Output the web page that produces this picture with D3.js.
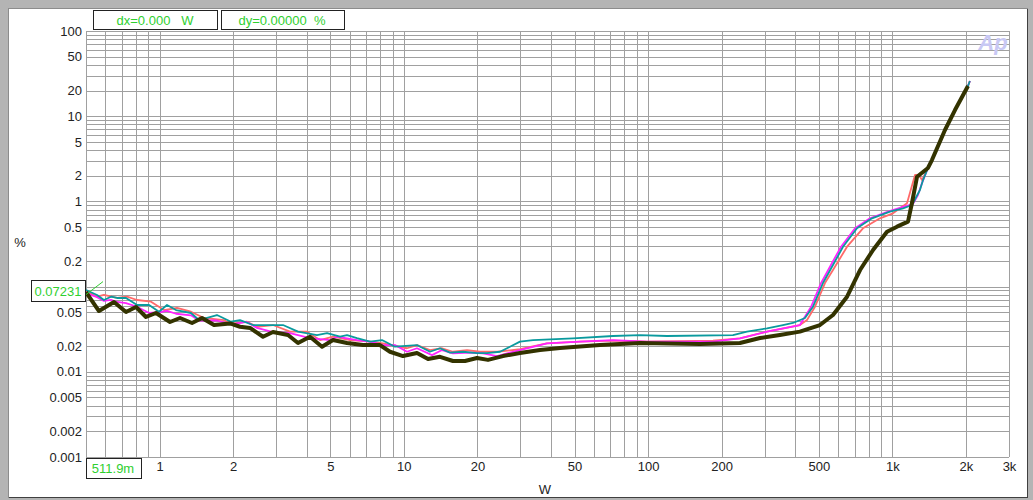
<!DOCTYPE html>
<meta charset="utf-8">
<style>
body { margin: 0; background: #fff; }
svg text { font-family: "Liberation Sans", Arial, sans-serif; }
</style>
<svg width="1033" height="500"></svg>
<script src="https://d3js.org/d3.v7.min.js"></script>
<script>

// power (W) / THD+N (%), one pair of arrays per trace
var redW = [0.5, 0.555, 0.592, 0.670, 0.736, 0.809, 0.923, 1.043, 1.179, 1.345, 1.521, 1.836, 1.943, 2.28, 2.505, 2.913, 3.42, 4.014, 4.537, 5.129, 6.02, 7.27, 8.22, 10.3, 11.32, 12.79, 14.33, 15.89, 18.13, 20.5, 24.06, 29.88, 38.5, 52.6, 71.8, 98.9, 184.2, 237.6, 306.6, 418, 447, 482, 529.5, 571, 652, 757.5, 889, 1005, 1147, 1237, 1284, 1321, 1398, 1451, 1641, 1803, 2038, 2075];
var redPct = [0.088, 0.0761, 0.0797, 0.0735, 0.0761, 0.0696, 0.0665, 0.0531, 0.0561, 0.0507, 0.0428, 0.0405, 0.0364, 0.0387, 0.0338, 0.0354, 0.0296, 0.0296, 0.0236, 0.0258, 0.0236, 0.0226, 0.0216, 0.0189, 0.0206, 0.0180, 0.0189, 0.0172, 0.0180, 0.0172, 0.0172, 0.0184, 0.0216, 0.0226, 0.0232, 0.0226, 0.0232, 0.0247, 0.0296, 0.0354, 0.0405, 0.0581, 0.110, 0.1566, 0.294, 0.483, 0.633, 0.725, 0.950, 2.04, 2.04, 1.78, 2.47, 3.06, 6.89, 11.8, 22.6, 25.9];

var magentaW = [0.5, 0.555, 0.592, 0.633, 0.670, 0.729, 0.809, 0.906, 0.995, 1.073, 1.168, 1.345, 1.45, 1.718, 1.961, 2.28, 2.505, 2.913, 3.42, 4.129, 4.985, 5.325, 6.43, 7.27, 8.22, 9.20, 10.3, 11.32, 13.04, 14.33, 15.89, 18.66, 21.09, 24.06, 27.19, 29.88, 38.5, 52.6, 71.8, 98.9, 184.2, 237.6, 306.6, 418, 430, 464, 510, 560, 616, 703, 809, 959, 1105, 1213, 1272, 1321, 1398, 1451, 1641, 1803, 2038, 2075];
var magentaPct = [0.084, 0.075, 0.068, 0.070, 0.066, 0.064, 0.058, 0.049, 0.050, 0.052, 0.048, 0.046, 0.040, 0.040, 0.036, 0.0385, 0.0327, 0.0293, 0.0285, 0.0249, 0.0236, 0.0258, 0.0236, 0.0226, 0.0206, 0.0206, 0.0172, 0.0189, 0.0157, 0.0180, 0.0165, 0.0168, 0.0165, 0.0153, 0.0168, 0.0180, 0.0216, 0.0226, 0.0236, 0.0226, 0.0226, 0.0247, 0.0296, 0.0354, 0.0405, 0.0576, 0.110, 0.179, 0.294, 0.483, 0.633, 0.757, 0.860, 0.932, 1.19, 1.64, 2.47, 3.06, 6.89, 11.8, 22.6, 25.9];

var tealW = [0.5, 0.555, 0.592, 0.633, 0.670, 0.729, 0.809, 0.906, 0.995, 1.073, 1.168, 1.345, 1.450, 1.718, 1.961, 2.135, 2.413, 2.832, 3.201, 3.687, 4.411, 4.849, 5.481, 5.853, 6.43, 7.27, 8.14, 9.20, 11.32, 12.79, 14.06, 15.45, 17.47, 19.93, 21.89, 24.75, 27.19, 29.88, 33.78, 49.26, 71.8, 92.6, 119.4, 222.5, 253.8, 306.6, 356.3, 391.6, 438.5, 473, 519.6, 571, 627.7, 716, 824.9, 977, 1105, 1202, 1296, 1334, 1398, 1451, 1641, 1803, 2038, 2075];
var tealPct = [0.0912, 0.0797, 0.0696, 0.0761, 0.0735, 0.0735, 0.0608, 0.0608, 0.0507, 0.0608, 0.0531, 0.0490, 0.0405, 0.0464, 0.0387, 0.0405, 0.0354, 0.0354, 0.0354, 0.0296, 0.0270, 0.0285, 0.0258, 0.0270, 0.0249, 0.0226, 0.0236, 0.0197, 0.0206, 0.0172, 0.0189, 0.0168, 0.0172, 0.0166, 0.0166, 0.0172, 0.0197, 0.0226, 0.0236, 0.0247, 0.0263, 0.0270, 0.0263, 0.0270, 0.0296, 0.0324, 0.0354, 0.0374, 0.0428, 0.0581, 0.1102, 0.1793, 0.2938, 0.4833, 0.633, 0.757, 0.830, 0.907, 1.36, 1.78, 2.47, 3.06, 6.89, 11.8, 22.6, 25.9];

var blackW = [0.5, 0.565, 0.651, 0.729, 0.801, 0.880, 0.967, 1.104, 1.213, 1.358, 1.492, 1.671, 1.943, 2.135, 2.346, 2.652, 2.913, 3.357, 3.687, 4.129, 4.624, 5.129, 5.853, 6.805, 7.987, 8.776, 9.92, 11.32, 12.56, 14.06, 15.89, 17.80, 19.93, 22.10, 25.46, 29.88, 36.08, 43.57, 63.5, 92.6, 163, 237.6, 287, 346, 418, 505, 571, 652, 737, 833, 950, 1044, 1158, 1202, 1261, 1398, 1451, 1641, 1803, 2038];
var blackPct = [0.0864, 0.0517, 0.0659, 0.0503, 0.0576, 0.0440, 0.0490, 0.0384, 0.0428, 0.0374, 0.0428, 0.0354, 0.0370, 0.0338, 0.0327, 0.0258, 0.0293, 0.0270, 0.0218, 0.0258, 0.0197, 0.0236, 0.0218, 0.0206, 0.0206, 0.0172, 0.0153, 0.0166, 0.0141, 0.0150, 0.0134, 0.0134, 0.0145, 0.0138, 0.0153, 0.0166, 0.0180, 0.0190, 0.0206, 0.0218, 0.0212, 0.0218, 0.0249, 0.0270, 0.0296, 0.0354, 0.0464, 0.0761, 0.1566, 0.269, 0.441, 0.505, 0.578, 0.958, 1.95, 2.47, 3.06, 6.89, 11.8, 22.6];

// 0.5 W and 0.1 % sit under the cursor readouts, so they are not labelled
var xTicks = [1, 2, 5, 10, 20, 50, 100, 200, 500, 1000, 2000, 3000];
var xTickText = ["1", "2", "5", "10", "20", "50", "100", "200", "500", "1k", "2k", "3k"];
var yTicks = [100, 50, 20, 10, 5, 2, 1, 0.5, 0.2, 0.05, 0.02, 0.01, 0.005, 0.002, 0.001];

var svg = d3.select("svg"),
    width = +svg.attr("width"),
    height = +svg.attr("height");

var mLeft = 86, mRight = 1009, mTop = 31, mBottom = 457;

var x = d3.scaleLog().domain([0.5, 3000]).range([mLeft, mRight]);
var y = d3.scaleLog().domain([0.001, 100]).range([mBottom, mTop]);

// window frame
svg.append("rect").attr("width", width).attr("height", height).attr("fill", "#b4b4b4");
svg.append("rect").attr("x", 8).attr("y", 8).attr("width", 1019).attr("height", 489).attr("fill", "#fff");
svg.append("line").attr("x1", 8).attr("x2", 1028).attr("y1", 497.5).attr("y2", 497.5).attr("stroke", "#404040");
svg.append("line").attr("x1", 1027.5).attr("x2", 1027.5).attr("y1", 8).attr("y2", 498).attr("stroke", "#404040");
svg.append("line").attr("x1", 8.5).attr("x2", 8.5).attr("y1", 8).attr("y2", 498).attr("stroke", "#8c8c8c");
svg.append("line").attr("x1", 8).attr("x2", 1028).attr("y1", 8.5).attr("y2", 8.5).attr("stroke", "#8c8c8c");

// grid lines, every 1..9 of each decade
var xGrid = [], yGrid = [];
for (var e = -1; e <= 3; e++) {
  for (var k = 1; k <= 9; k++) {
    var v = k * Math.pow(10, e);
    if (v >= 0.5 && v <= 3000) xGrid.push(v);
  }
}
for (var e = -3; e <= 2; e++) {
  for (var k = 1; k <= 9; k++) {
    var v = k * Math.pow(10, e);
    if (v >= 0.001 && v <= 100) yGrid.push(v);
  }
}

var grid = svg.append("g").attr("shape-rendering", "crispEdges").attr("stroke", "#a0a0a0");
grid.selectAll(".gx").data(xGrid).enter().append("line")
    .attr("x1", function(d) { return Math.round(x(d)) + 0.5; })
    .attr("x2", function(d) { return Math.round(x(d)) + 0.5; })
    .attr("y1", mTop).attr("y2", mBottom);
grid.selectAll(".gy").data(yGrid).enter().append("line")
    .attr("y1", function(d) { return Math.round(y(d)) + 0.5; })
    .attr("y2", function(d) { return Math.round(y(d)) + 0.5; })
    .attr("x1", mLeft).attr("x2", mRight);
grid.append("line").attr("x1", mRight + 0.5).attr("x2", mRight + 0.5).attr("y1", mTop).attr("y2", mBottom);

// axes (labels only)
svg.append("g")
    .attr("transform", "translate(0," + mBottom + ")")
    .call(d3.axisBottom(x).tickValues(xTicks).tickSize(0).tickPadding(5)
      .tickFormat(function(d, i) { return xTickText[i]; }));
svg.append("g")
    .attr("transform", "translate(" + mLeft + ",0)")
    .call(d3.axisLeft(y).tickValues(yTicks).tickSize(0).tickPadding(4)
      .tickFormat(function(d) { return String(d); }));
svg.selectAll(".domain").remove();
svg.selectAll(".tick text")
    .attr("fill", "#222")
    .style("font-size", "13px")
    .style("font-family", "\"Liberation Sans\", Arial, sans-serif");

svg.append("text").attr("x", 20).attr("y", 247).attr("text-anchor", "middle")
    .attr("fill", "#222").style("font-size", "13px").text("%");
svg.append("text").attr("x", 545).attr("y", 494).attr("text-anchor", "middle")
    .attr("fill", "#222").style("font-size", "13px").text("W");

// traces
var line = d3.line()
    .x(function(d) { return x(d[0]); })
    .y(function(d) { return y(d[1]); });

var traces = [
  { w: redW, p: redPct, color: "#ff6a6a", width: 1.8 },
  { w: magentaW, p: magentaPct, color: "#ff22ff", width: 1.8 },
  { w: tealW, p: tealPct, color: "#0a9a9e", width: 1.8 },
  { w: blackW, p: blackPct, color: "#333300", width: 4 }
];

var plot = svg.append("g");
traces.forEach(function(t) {
  plot.append("path")
      .datum(d3.zip(t.w, t.p))
      .attr("fill", "none")
      .attr("stroke", t.color)
      .attr("stroke-width", t.width)
      .attr("stroke-linejoin", "round")
      .attr("d", line);
});

// cursor marker
svg.append("line").attr("x1", x(0.5)).attr("y1", y(0.0723) - 4)
    .attr("x2", x(0.5) + 17).attr("y2", y(0.0723) - 17)
    .attr("stroke", "#33cc33").attr("stroke-width", 1);

// readout boxes
var green = "#2fcf2f";
function box(bx, by, bw, bh, txt, tx) {
  svg.append("rect").attr("x", bx + 0.5).attr("y", by + 0.5).attr("width", bw).attr("height", bh)
      .attr("fill", "#fff").attr("stroke", "#222").attr("stroke-width", 1);
  svg.append("text").attr("x", tx).attr("y", by + bh / 2 + 5)
      .attr("text-anchor", "middle").attr("fill", green).style("font-size", "13px")
      .style("white-space", "pre").text(txt);
}
box(93, 10, 124, 19, "dx=0.000   W", 155);
box(221, 10, 123, 19, "dy=0.00000  %", 282);
box(31, 280, 54, 21, "0.07231", 58);
box(86, 458, 55, 20, "511.9m", 113);

// logo
svg.append("text").attr("x", 993).attr("y", 50).attr("text-anchor", "middle")
    .attr("fill", "#c8c8f4").style("font-size", "22px").style("font-weight", "bold")
    .style("font-style", "italic").text("Ap");

</script>
